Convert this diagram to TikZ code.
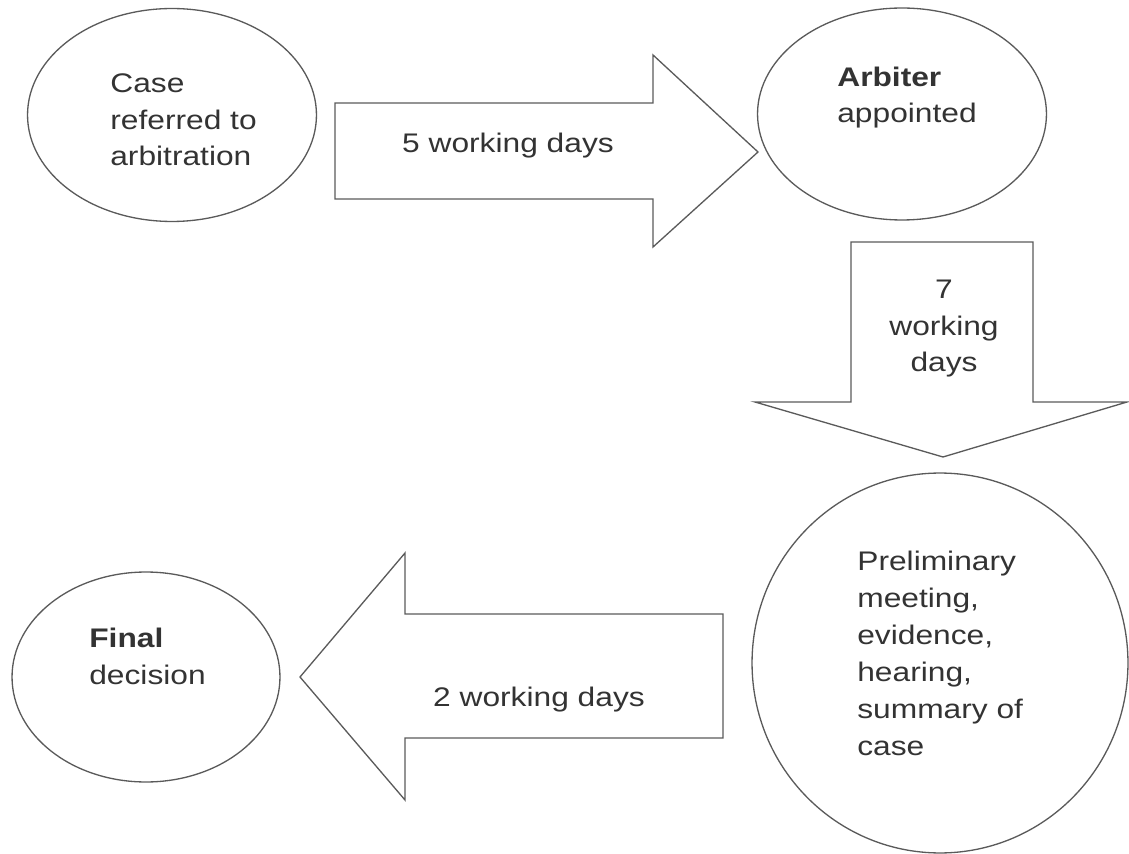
\documentclass[tikz,border=0pt]{standalone}
\usepackage{fontspec}
\setmainfont[FakeStretch=1.18]{Liberation Sans}
\usepackage{xcolor}
\usepackage{tikz}
\usetikzlibrary{shapes.geometric, positioning}
\definecolor{edgegray}{HTML}{5A5A5A}
\definecolor{inkgray}{HTML}{333333}

\begin{document}
\begin{tikzpicture}[
        x=0.02cm, y=-0.02cm,
        every node/.style={text=inkgray, font=\fontsize{15.3}{21}\selectfont},
        stage/.style={ellipse, draw=edgegray, line width=0.75pt, inner sep=0pt},
        blockarrow/.style={draw=edgegray, line width=0.75pt, line join=miter},
        caption/.style={align=left, anchor=base west, inner sep=0pt}
    ]
    \useasboundingbox (0,0) rectangle (1129,854);

    % stages
    \node[stage, minimum width=5.78cm, minimum height=4.26cm] (A) at (172,115) {};
    \node[stage, minimum width=5.78cm, minimum height=4.24cm] (B) at (902,114) {};
    \node[stage, minimum width=7.52cm, minimum height=7.6cm] (C) at (940,663) {};
    \node[stage, minimum width=5.36cm, minimum height=4.2cm] (D) at (146,677) {};

    % texts, placed by the baseline of their last line
    \node[caption] (At) at (110,166) {Case\\referred to\\arbitration};
    \node[caption] (Bt) at (837,123) {\textbf{Arbiter}\\appointed};
    \node[caption] (Ct) at (857,755) {Preliminary\\meeting,\\evidence,\\hearing,\\summary of\\case};
    \node[caption] (Dt) at (89,684) {\textbf{Final}\\decision};

    % block arrows
    \draw[blockarrow] (335,103) -- (653,103) -- (653,55) -- (758,152)
        -- (653,247) -- (653,199) -- (335,199) -- cycle;
    \draw[blockarrow] (851,242) -- (1033,242) -- (1033,402) -- (1127,402)
        -- (943,457) -- (755,402) -- (851,402) -- cycle;
    \draw[blockarrow] (723,614) -- (405,614) -- (405,553) -- (300,677)
        -- (405,800) -- (405,738) -- (723,738) -- cycle;

    \node[anchor=base, inner sep=0pt] (AB) at (508,153) {5 working days};
    \node[anchor=base, align=center, inner sep=0pt] (BC) at (944,372) {7\\working\\days};
    \node[anchor=base, inner sep=0pt] (CD) at (539,706) {2 working days};

\end{tikzpicture}
\end{document}
